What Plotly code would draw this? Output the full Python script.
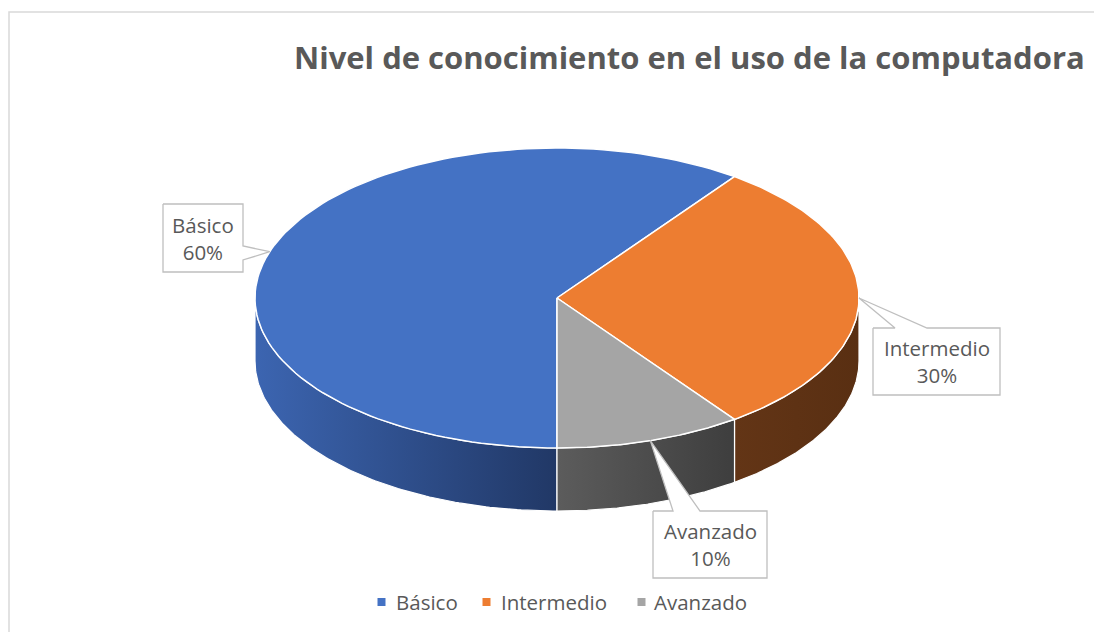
import numpy as np
import plotly.graph_objects as go

# ---- data ----
categories = ["Básico", "Intermedio", "Avanzado"]
values = [60, 30, 10]
pct_labels = ["60%", "30%", "10%"]
title_text = "Nivel de conocimiento en el uso de la computadora"

# ---- style ----
top_colors = ["#4472C4", "#ED7D31", "#A5A5A5"]
side_colors = [("#3c65b1", "#213866"), ("#633516", "#592f12"), ("#5c5c5c", "#3e3e3e")]
TXT = "#595959"
FONT = "Open Sans"
W, H = 1102, 632
OFF = 8  # page body margin
cx, cy, a, b, depth = 557, 298, 302, 150, 63
start_angle = 180.0  # degrees, clockwise from 12 o'clock

def pt(theta_deg, dy=0.0):
    t = np.radians(theta_deg)
    return cx + a * np.sin(t), cy - b * np.cos(t) + dy

def arc(t1, t2, dy=0.0, n=120):
    ts = np.linspace(t1, t2, n)
    xs, ys = pt(ts, dy)
    return list(xs), list(ys)

fig = go.Figure()

total = float(sum(values))
bounds = []
acc = start_angle
for v in values:
    t1 = acc
    t2 = acc + 360.0 * v / total
    bounds.append((t1, t2))
    acc = t2

# side faces (front half: 90..270 deg)
for i, (t1, t2) in enumerate(bounds):
    for shift in (0, 360, -360):
        s1 = max(t1 + shift, 90)
        s2 = min(t2 + shift, 270)
        if s2 > s1:
            xt, yt = arc(s1, s2)
            xb, yb = arc(s2, s1, dy=depth)
            xs = xt + xb + [xt[0]]
            ys = yt + yb + [yt[0]]
            c1, c2 = side_colors[i]
            fig.add_trace(go.Scatter(
                x=xs, y=ys, mode="lines", fill="toself",
                line=dict(color="white", width=1.2),
                fillgradient=dict(type="horizontal",
                                  colorscale=[[0, c1], [1, c2]],
                                  start=min(xs), stop=max(xs)),
                hoverinfo="skip", showlegend=False))

# top faces
for i, (t1, t2) in enumerate(bounds):
    xa, ya = arc(t1, t2)
    xs = [cx] + xa + [cx]
    ys = [cy] + ya + [cy]
    fig.add_trace(go.Scatter(
        x=xs, y=ys, mode="lines", fill="toself",
        fillcolor=top_colors[i], line=dict(color="white", width=1.5),
        hoverinfo="skip", showlegend=False, name=categories[i]))

# data label callouts: (x0, x1, y0, y1, side, w1, w2)
boxes = [
    (163, 243, 204, 272, "right", 246, 260),
    (873, 1000, 328, 395, "top", 895, 927),
    (653, 767, 511, 578, "top", 673, 700),
]
for i, (t1, t2) in enumerate(bounds):
    tx, ty = pt((t1 + t2) / 2.0)
    x0, x1, y0, y1, side, w1, w2 = boxes[i]
    if side == "right":
        xs = [x0, x1, x1, tx, x1, x1, x0, x0]
        ys = [y0, y0, w1, ty, w2, y1, y1, y0]
    else:
        xs = [x0, w1, tx, w2, x1, x1, x0, x0]
        ys = [y0, y0, ty, y0, y0, y1, y1, y0]
    fig.add_trace(go.Scatter(
        x=xs, y=ys, mode="lines", fill="toself", fillcolor="white",
        line=dict(color="#bfbfbf", width=1.3),
        hoverinfo="skip", showlegend=False))
    fig.add_annotation(x=(x0 + x1) / 2, y=(y0 + y1) / 2,
                       text=f"{categories[i]}<br>{pct_labels[i]}",
                       showarrow=False, xref="x", yref="y",
                       font=dict(family=FONT, size=20.5, color=TXT))

# manual legend
leg_marker_x = [381.5, 486.5, 641.5]
leg_text_x = [394, 499, 652]
leg_y = 602
fig.add_trace(go.Scatter(
    x=leg_marker_x, y=[leg_y] * 3, mode="markers",
    marker=dict(symbol="square", size=8, color=top_colors, line=dict(width=0)),
    hoverinfo="skip", showlegend=False))
for i, c in enumerate(categories):
    fig.add_annotation(x=leg_text_x[i], y=leg_y, text=c, showarrow=False,
                       xanchor="left", xref="x", yref="y",
                       font=dict(family=FONT, size=20.5, color=TXT))

# title
fig.add_annotation(x=689, y=57, text=f"<b>{title_text}</b>", showarrow=False,
                   xref="x", yref="y",
                   font=dict(family=FONT, size=31, color=TXT))

# chart frame
fig.add_shape(type="rect", x0=9, y0=12, x1=1120, y1=650, xref="x", yref="y",
              line=dict(color="#d9d9d9", width=1.5), layer="below")

fig.update_layout(
    width=W - OFF, height=H - OFF, margin=dict(l=0, r=0, t=0, b=0),
    paper_bgcolor="white", plot_bgcolor="white",
    xaxis=dict(range=[OFF, W], visible=False, fixedrange=True),
    yaxis=dict(range=[H, OFF], visible=False, fixedrange=True),
    showlegend=False,
)

fig.write_html("out.html")
